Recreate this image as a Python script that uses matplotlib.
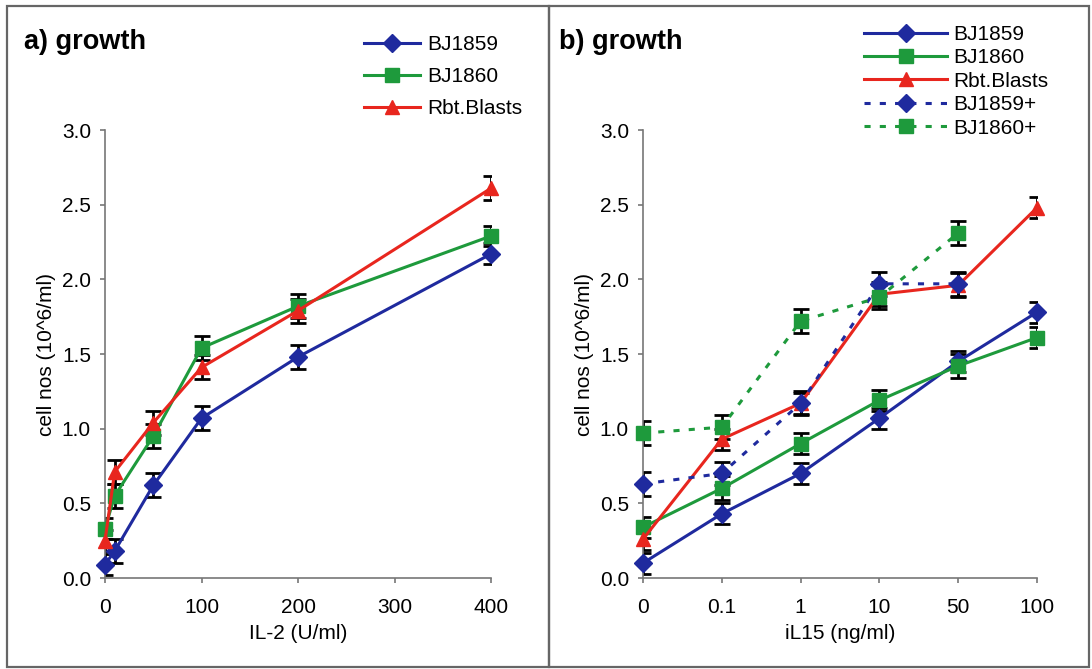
import matplotlib
matplotlib.use("Agg")
import matplotlib.pyplot as plt
from matplotlib.patches import Rectangle

plt.rcParams['font.family'] = ['Liberation Sans', 'DejaVu Sans']

# ---------------- data ----------------
il2_doses = [0, 10, 50, 100, 200, 400]
a_bj1859 = [0.09, 0.18, 0.62, 1.07, 1.48, 2.17]
a_bj1859_err = [0.07, 0.08, 0.08, 0.08, 0.08, 0.07]
a_bj1860 = [0.33, 0.55, 0.95, 1.54, 1.82, 2.29]
a_bj1860_err = [0.07, 0.08, 0.08, 0.08, 0.08, 0.07]
a_rbt = [0.25, 0.71, 1.04, 1.41, 1.79, 2.61]
a_rbt_err = [0.07, 0.08, 0.08, 0.08, 0.08, 0.08]

il15_labels = ['0', '0.1', '1', '10', '50', '100']
b_bj1859 = [0.10, 0.43, 0.70, 1.07, 1.45, 1.78]
b_bj1859_err = [0.07, 0.07, 0.07, 0.07, 0.07, 0.07]
b_bj1860 = [0.34, 0.60, 0.90, 1.19, 1.42, 1.61]
b_bj1860_err = [0.07, 0.08, 0.07, 0.07, 0.08, 0.07]
b_rbt = [0.26, 0.93, 1.17, 1.90, 1.96, 2.48]
b_rbt_err = [0.07, 0.07, 0.08, 0.08, 0.08, 0.07]
b_bj1859p = [0.63, 0.70, 1.17, 1.97, 1.97]
b_bj1859p_err = [0.08, 0.08, 0.07, 0.08, 0.08]
b_bj1860p = [0.97, 1.01, 1.72, 1.88, 2.31]
b_bj1860p_err = [0.08, 0.08, 0.08, 0.08, 0.08]

BLUE = '#1f2a9e'
GREEN = '#1e9a3c'
RED = '#e8261e'
FS = 15

W, H = 1092, 669
fig = plt.figure(figsize=(W / 100, H / 100), dpi=100)

# panel frames
for (x0, x1) in [(7, 549), (549, 1089)]:
    fig.patches.append(Rectangle((x0 / W, 1 - 667 / H), (x1 - x0) / W, (667 - 6) / H,
                                 transform=fig.transFigure, fill=False,
                                 edgecolor='#666666', linewidth=1.6))


def fax(l, r, t, b):
    return fig.add_axes([l / W, 1 - b / H, (r - l) / W, (b - t) / H])


def style(ax):
    for s in ['top', 'right']:
        ax.spines[s].set_visible(False)
    for s in ['left', 'bottom']:
        ax.spines[s].set_color('#777777')
        ax.spines[s].set_linewidth(1.2)
    ax.tick_params(direction='out', length=3.6, width=1.2, color='#777777',
                   labelsize=FS)
    ax.tick_params(axis='x', pad=10.5)
    ax.tick_params(axis='y', pad=6.5)
    ax.set_ylim(0, 3.0)
    ax.set_yticks([0, 0.5, 1.0, 1.5, 2.0, 2.5, 3.0])
    ax.set_yticklabels(['0.0', '0.5', '1.0', '1.5', '2.0', '2.5', '3.0'])
    ax.set_ylabel('cell nos (10^6/ml)', fontsize=FS, labelpad=4)


def series(ax, x, y, e, color, marker, ls, label, ms):
    ax.errorbar(x, y, yerr=e, fmt='none', ecolor='black', elinewidth=2,
                capsize=6, capthick=2, zorder=2)
    ax.plot(x, y, color=color, marker=marker, linestyle=ls, linewidth=2.2,
            markersize=ms, markeredgecolor=color, label=label, zorder=3,
            clip_on=False)


# ---------------- panel a ----------------
ax1 = fax(105, 491, 130, 578)
style(ax1)
ax1.set_xlim(0, 400)
ax1.set_xticks([0, 100, 200, 300, 400])
series(ax1, il2_doses, a_bj1859, a_bj1859_err, BLUE, 'D', '-', 'BJ1859', 9.5)
series(ax1, il2_doses, a_bj1860, a_bj1860_err, GREEN, 's', '-', 'BJ1860', 9.5)
series(ax1, il2_doses, a_rbt, a_rbt_err, RED, '^', '-', 'Rbt.Blasts', 9.5)
ax1.set_xlabel('IL-2 (U/ml)', fontsize=FS, labelpad=5)
fig.text(24 / W, 1 - 42 / H, 'a) growth', fontsize=19.5, fontweight='bold',
         va='center', ha='left')
h, l = ax1.get_legend_handles_labels()
fig.legend(h, l, loc='upper left', bbox_to_anchor=(364 / W, 1 - 35 / H),
           frameon=False, fontsize=FS, handlelength=2.7, handletextpad=0.34,
           labelspacing=0.62, borderpad=0, borderaxespad=0, numpoints=1)

# ---------------- panel b ----------------
ax2 = fax(643, 1037, 130, 578)
style(ax2)
xpos = list(range(len(il15_labels)))
ax2.set_xlim(0, len(il15_labels) - 1)
ax2.set_xticks(xpos)
ax2.set_xticklabels(il15_labels)
series(ax2, xpos, b_bj1859, b_bj1859_err, BLUE, 'D', '-', 'BJ1859', 9.5)
series(ax2, xpos, b_bj1860, b_bj1860_err, GREEN, 's', '-', 'BJ1860', 9.5)
series(ax2, xpos, b_rbt, b_rbt_err, RED, '^', '-', 'Rbt.Blasts', 9.5)
series(ax2, xpos[:len(b_bj1859p)], b_bj1859p, b_bj1859p_err, BLUE, 'D', (0, (2, 3)), 'BJ1859+', 9.5)
series(ax2, xpos[:len(b_bj1860p)], b_bj1860p, b_bj1860p_err, GREEN, 's', (0, (2, 3)), 'BJ1860+', 9.5)
ax2.set_xlabel('iL15 (ng/ml)', fontsize=FS, labelpad=5)
fig.text(559 / W, 1 - 42 / H, 'b) growth', fontsize=19.5, fontweight='bold',
         va='center', ha='left')
h, l = ax2.get_legend_handles_labels()
fig.legend(h, l, loc='upper left', bbox_to_anchor=(864 / W, 1 - 25 / H),
           frameon=False, fontsize=FS, handlelength=4.0, handletextpad=0.29,
           labelspacing=0.21, borderpad=0, borderaxespad=0, numpoints=1)

fig.savefig('out.png', dpi=100)
